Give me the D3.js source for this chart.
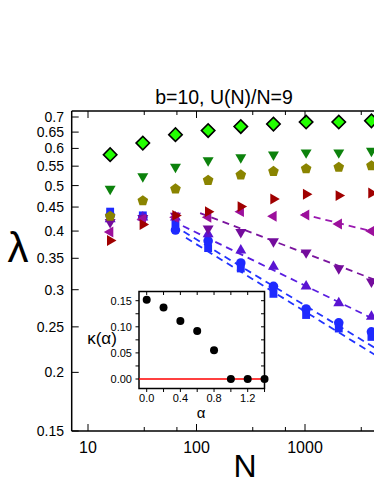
<!DOCTYPE html>
<html><head><meta charset="utf-8">
<script src="https://cdn.jsdelivr.net/npm/d3@7"></script>
<style>body{margin:0;background:#fff}svg{display:block}text{font-family:"Liberation Sans",Arial,sans-serif}</style>
</head><body><svg id="c" width="374" height="484"></svg>
<script>
// ---- data ----
const Nvals = [16, 32, 64, 128, 256, 512, 1024, 2048, 4096];
const lamDiamond    = [0.582, 0.616, 0.642, 0.655, 0.668, 0.676, 0.683, 0.683, 0.687];
const lamDownGreen  = [0.492, 0.523, 0.548, 0.566, 0.574, 0.582, 0.588, 0.588, 0.593];
const lamPentagon   = [0.430, 0.464, 0.492, 0.513, 0.527, 0.536, 0.543, 0.547, 0.551];
const lamRight      = [0.382, 0.413, 0.432, 0.440, 0.451, 0.468, 0.479, 0.476, 0.482];
const lamLeft       = [0.398, 0.424, 0.428, 0.428, 0.440, 0.430, 0.433, 0.414, 0.400];
const lamDownPurple = [0.418, 0.426, 0.431, 0.405, 0.398, 0.380, 0.360, 0.333, 0.312];
const lamUp         = [0.424, 0.428, 0.428, 0.394, 0.364, 0.336, 0.305, 0.281, 0.263];
const lamCircle     = [0.432, 0.428, 0.402, 0.381, 0.342, 0.305, 0.273, 0.255, 0.244];
const lamSquare     = [0.440, 0.432, 0.415, 0.368, 0.333, 0.294, 0.265, 0.248, 0.238];

// power-law fit lines: [N start, N end], [lambda start, lambda end]
const fitLeftN = [940, 4400],   fitLeftL = [0.435, 0.398];
const fitDownN = [108, 4400],   fitDownL = [0.437, 0.315];
const fitUpN = [75, 4400],      fitUpL = [0.410, 0.259];
const fitCircleN = [76, 4400],  fitCircleL = [0.399, 0.2255];
const fitSquareN = [80, 4400],  fitSquareL = [0.387, 0.218];

const xTicks = [10, 100, 1000];
const xMinorTicks = [33, 66, 330, 660, 3300];
const yTicks = [0.15, 0.2, 0.25, 0.3, 0.35, 0.4, 0.45, 0.5, 0.55, 0.6, 0.65, 0.7];

// inset
const alphaVals = [0.0, 0.2, 0.4, 0.6, 0.8, 1.0, 1.2, 1.4];
const kappaVals = [0.152, 0.137, 0.111, 0.092, 0.055, 0.0, 0.0, 0.0];
const insetXTicks = [0.0, 0.4, 0.8, 1.2];
const insetYTicks = [0.00, 0.05, 0.10, 0.15];

// ---- drawing ----
const svg = d3.select("#c");
const x = d3.scaleLog().domain([10, 1000]).range([88, 305]);
const y = d3.scaleLog().domain([0.15, 0.7]).range([431, 117]);
const X0 = 71.7, X1 = 400, Y0 = 431, Y1 = 111;

svg.append("text").attr("x", 224).attr("y", 104).attr("text-anchor", "middle")
  .attr("font-size", 19.5).text("b=10, U(N)/N=9");

// fit lines
const fits = [
  [fitSquareN, fitSquareL, "#2233ff"],
  [fitCircleN, fitCircleL, "#2233ff"],
  [fitUpN, fitUpL, "#5a1ee0"],
  [fitDownN, fitDownL, "#7a149e"],
  [fitLeftN, fitLeftL, "#9a18b0"]
];
const gFit = svg.append("g");
fits.forEach(([n, l, c]) => {
  gFit.append("line").attr("x1", x(n[0])).attr("y1", y(l[0])).attr("x2", x(n[1])).attr("y2", y(l[1]))
    .attr("stroke", c).attr("stroke-width", 1.8).attr("stroke-dasharray", "7,5");
});

function pentagon(r) {
  const p = d3.path();
  for (let k = 0; k < 5; k++) {
    const a = -Math.PI / 2 + k * 2 * Math.PI / 5;
    const px = r * Math.cos(a), py = r * Math.sin(a);
    if (k === 0) p.moveTo(px, py); else p.lineTo(px, py);
  }
  p.closePath();
  return p.toString();
}
const tri = d3.symbol(d3.symbolTriangle, 52)();
const series = [
  {v: lamSquare, path: d3.symbol(d3.symbolSquare, 62)(), rot: 0, fill: "#1e2aff"},
  {v: lamCircle, path: d3.symbol(d3.symbolCircle, 72)(), rot: 0, fill: "#1e2aff"},
  {v: lamUp, path: tri, rot: 0, fill: "#5a14d2"},
  {v: lamDownPurple, path: tri, rot: 180, fill: "#740c9c"},
  {v: lamLeft, path: tri, rot: -90, fill: "#9c109c"},
  {v: lamRight, path: tri, rot: 90, fill: "#a00000"},
  {v: lamPentagon, path: pentagon(5.6), rot: 0, fill: "#8a8400"},
  {v: lamDownGreen, path: tri, rot: 180, fill: "#0c820c"},
  {v: lamDiamond, path: d3.symbol(d3.symbolSquare, 90)(), rot: 45, fill: "#22ff00", stroke: "#000"}
];
series.forEach(s => {
  svg.append("g").selectAll("path").data(s.v).join("path")
    .attr("d", s.path)
    .attr("transform", (d, i) => `translate(${x(Nvals[i])},${y(d)}) rotate(${s.rot})`)
    .attr("fill", s.fill)
    .attr("stroke", s.stroke || "none").attr("stroke-width", s.stroke ? 1.6 : 0);
});

// axes
const ax = svg.append("g").attr("stroke", "#000");
ax.append("line").attr("x1", X0).attr("x2", X1).attr("y1", Y0).attr("y2", Y0).attr("stroke-width", 1.5);
ax.append("line").attr("x1", X0).attr("x2", X1).attr("y1", Y1).attr("y2", Y1).attr("stroke-width", 1.5);
ax.append("line").attr("x1", X0).attr("x2", X0).attr("y1", Y1).attr("y2", Y0).attr("stroke-width", 1.5);
xTicks.forEach(t => {
  ax.append("line").attr("x1", x(t)).attr("x2", x(t)).attr("y1", Y0).attr("y2", Y0 - 7);
  ax.append("line").attr("x1", x(t)).attr("x2", x(t)).attr("y1", Y1).attr("y2", Y1 + 7);
});
xMinorTicks.forEach(t => {
  ax.append("line").attr("x1", x(t)).attr("x2", x(t)).attr("y1", Y0).attr("y2", Y0 - 4);
  ax.append("line").attr("x1", x(t)).attr("x2", x(t)).attr("y1", Y1).attr("y2", Y1 + 4);
});
yTicks.forEach(t => {
  ax.append("line").attr("x1", X0).attr("x2", X0 + 7).attr("y1", y(t)).attr("y2", y(t));
});
svg.append("g").selectAll("text").data(xTicks).join("text")
  .attr("x", d => x(d)).attr("y", 453).attr("text-anchor", "middle").attr("font-size", 16).text(d => d);
svg.append("g").selectAll("text").data(yTicks).join("text")
  .attr("x", 64).attr("y", d => y(d) + 5).attr("text-anchor", "end").attr("font-size", 14).text(d => d);

svg.append("text").attr("x", 245).attr("y", 477).attr("text-anchor", "middle").attr("font-size", 32).text("N");
svg.append("text").attr("x", 18).attr("y", 262).attr("text-anchor", "middle").attr("font-size", 42).text("λ");

// inset
const ix = d3.scaleLinear().domain([0, 1.2]).range([146.7, 247.7]);
const iy = d3.scaleLinear().domain([0, 0.15]).range([379, 300.7]);
const IX0 = 139, IX1 = 264.5, IY0 = 388.5, IY1 = 291.5;
const gi = svg.append("g");
gi.append("rect").attr("x", IX0).attr("y", IY1).attr("width", IX1 - IX0).attr("height", IY0 - IY1)
  .attr("fill", "#fff").attr("stroke", "#000").attr("stroke-width", 1.5);
gi.append("line").attr("x1", IX0).attr("x2", IX1).attr("y1", iy(0)).attr("y2", iy(0))
  .attr("stroke", "#ff0000").attr("stroke-width", 1.6);
gi.selectAll("circle").data(kappaVals).join("circle")
  .attr("cx", (d, i) => ix(alphaVals[i])).attr("cy", d => iy(d)).attr("r", 4).attr("fill", "#000");
const minorA = d3.range(0, 1.41, 0.2);
minorA.forEach(t => {
  gi.append("line").attr("x1", ix(t)).attr("x2", ix(t)).attr("y1", IY0).attr("y2", IY0 + 3.5).attr("stroke", "#000");
  gi.append("line").attr("x1", ix(t)).attr("x2", ix(t)).attr("y1", IY1).attr("y2", IY1 + 3.5).attr("stroke", "#000");
});
d3.range(0, 0.1501, 0.025).forEach(t => {
  gi.append("line").attr("x1", IX0).attr("x2", IX0 - 3.5).attr("y1", iy(t)).attr("y2", iy(t)).attr("stroke", "#000");
  gi.append("line").attr("x1", IX1).attr("x2", IX1 - 3.5).attr("y1", iy(t)).attr("y2", iy(t)).attr("stroke", "#000");
});
gi.selectAll("text.xt").data(insetXTicks).join("text").attr("class", "xt")
  .attr("x", d => ix(d)).attr("y", 402).attr("text-anchor", "middle").attr("font-size", 11)
  .text(d => d.toFixed(1));
gi.selectAll("text.yt").data(insetYTicks).join("text").attr("class", "yt")
  .attr("x", 132).attr("y", d => iy(d) + 4).attr("text-anchor", "end").attr("font-size", 11)
  .text(d => d.toFixed(2));
gi.append("text").attr("x", 201).attr("y", 418).attr("text-anchor", "middle").attr("font-size", 15).text("α");
gi.append("text").attr("x", 102).attr("y", 344).attr("text-anchor", "middle").attr("font-size", 17).text("κ(α)");
</script></body></html>
